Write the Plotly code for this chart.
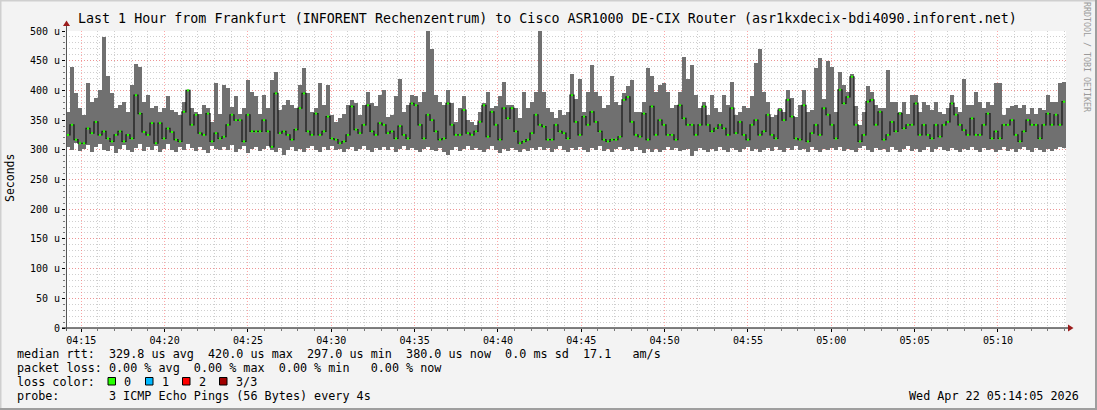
import plotly.graph_objects as go
import pandas as pd

# ---------------- data (microseconds) ----------------
rtt_max = [
    364, 440, 395, 370, 359, 412, 381, 387, 400, 490,
    425, 395, 370, 375, 381, 364, 409, 444, 440, 381,
    392, 370, 373, 364, 370, 390, 367, 364, 359, 381,
    401, 370, 363, 361, 375, 370, 347, 412, 361, 409,
    404, 372, 390, 361, 370, 418, 398, 390, 361, 392,
    370, 417, 431, 367, 375, 384, 375, 370, 409, 437,
    395, 364, 370, 412, 375, 409, 359, 347, 353, 361,
    375, 384, 378, 359, 375, 398, 378, 373, 392, 401,
    356, 359, 390, 420, 364, 375, 392, 390, 381, 398,
    500, 470, 392, 381, 375, 401, 378, 347, 370, 390,
    350, 347, 342, 364, 378, 398, 370, 373, 390, 414,
    375, 375, 370, 353, 398, 370, 381, 398, 500, 398,
    370, 364, 353, 367, 359, 364, 428, 386, 420, 364,
    398, 443, 398, 390, 370, 375, 425, 381, 375, 395,
    407, 417, 364, 364, 381, 437, 425, 398, 409, 412,
    398, 370, 375, 398, 456, 420, 443, 392, 370, 381,
    359, 392, 370, 364, 392, 375, 414, 359, 364, 373,
    370, 390, 446, 470, 398, 381, 356, 359, 370, 364,
    400, 387, 356, 375, 401, 364, 367, 437, 454, 385,
    449, 440, 364, 431, 409, 398, 428, 373, 342, 364,
    407, 398, 375, 370, 370, 434, 381, 381, 364, 381,
    361, 392, 392, 364, 381, 375, 367, 381, 364, 361,
    370, 392, 372, 364, 420, 375, 375, 398, 381, 370,
    381, 375, 412, 412, 359, 370, 373, 375, 370, 375,
    361, 370, 361, 370, 367, 392, 381, 381, 412, 414,
]
rtt_min = [
    305, 300, 312, 298, 302, 308, 296, 304, 310, 300,
    298, 306, 294, 302, 308, 300, 296, 303, 310, 298,
    304, 300, 306, 297, 302, 309, 300, 296, 304, 300,
    310, 303, 298, 305, 300, 295, 306, 302, 299, 304,
    300, 308, 297, 302, 306, 294, 301, 305, 298, 302,
    306, 300, 296, 303, 292, 300, 305, 298, 302, 297,
    303, 307, 300, 296, 304, 299, 306, 300, 302, 296,
    301, 305, 298, 302, 307, 300, 296, 303, 299, 305,
    300, 304, 297, 302, 306, 299, 303, 300, 296, 302,
    305, 300, 298, 303, 297, 292, 300, 305, 298, 302,
    306, 299, 303, 300, 296, 302, 307, 300, 294, 301,
    298, 303, 300, 296, 302, 298, 303, 300, 305, 299,
    303, 297, 301, 306, 300, 296, 303, 299, 304, 300,
    297, 303, 300, 306, 298, 302, 296, 301, 305, 299,
    302, 298, 305, 300, 294, 302, 297, 301, 296, 300,
    304, 299, 303, 298, 300, 302, 290, 298, 303, 300,
    296, 302, 298, 304, 300, 297, 303, 300, 296, 302,
    305, 298, 301, 296, 300, 303, 298, 305, 300, 297,
    303, 300, 306, 299, 302, 297, 304, 300, 296, 302,
    299, 303, 300, 305, 298, 302, 300, 296, 303, 306,
    300, 297, 303, 299, 302, 297, 304, 300, 296, 302,
    306, 298, 302, 296, 300, 304, 297, 301, 305, 300,
    298, 303, 300, 296, 302, 299, 304, 300, 297, 303,
    299, 302, 296, 300, 304, 298, 302, 297, 301, 305,
    300, 297, 303, 299, 296, 302, 298, 301, 305, 303,
]
rtt_median = [
    325, 342, 317, 311, 311, 336, 328, 347, 325, 331,
    319, 314, 325, 331, 314, 325, 319, 392, 361, 330,
    325, 345, 311, 345, 319, 336, 330, 317, 314, 364,
    400, 342, 359, 328, 325, 361, 314, 328, 319, 322,
    342, 359, 350, 350, 314, 359, 331, 331, 331, 350,
    331, 305, 395, 328, 331, 325, 317, 334, 370, 395,
    331, 325, 361, 325, 331, 356, 319, 317, 311, 314,
    325, 373, 334, 328, 342, 375, 331, 325, 345, 342,
    328, 331, 319, 340, 325, 319, 378, 375, 342, 319,
    359, 350, 331, 317, 319, 378, 342, 325, 325, 367,
    328, 325, 331, 347, 375, 322, 364, 342, 317, 370,
    353, 370, 331, 311, 314, 317, 328, 359, 342, 339,
    317, 317, 342, 331, 328, 319, 392, 347, 325, 356,
    342, 364, 347, 331, 317, 314, 317, 317, 322, 384,
    389, 347, 325, 322, 361, 317, 373, 325, 350, 342,
    325, 325, 317, 375, 353, 342, 342, 325, 342, 373,
    342, 331, 336, 342, 336, 325, 370, 328, 347, 325,
    317, 342, 350, 325, 331, 359, 325, 319, 367, 350,
    384, 356, 319, 317, 375, 314, 328, 342, 325, 370,
    359, 342, 319, 401, 378, 389, 423, 342, 314, 325,
    381, 384, 342, 364, 317, 325, 347, 331, 361, 336,
    342, 342, 378, 325, 342, 325, 319, 342, 322, 342,
    347, 378, 359, 342, 333, 325, 353, 325, 325, 342,
    361, 319, 331, 319, 342, 342, 350, 325, 314, 331,
    350, 342, 342, 319, 342, 361, 342, 359, 342, 381,
]
y_tick_values = [0, 50, 100, 150, 200, 250, 300, 350, 400, 450, 500]
y_tick_labels = ["0", "50 u", "100 u", "150 u", "200 u", "250 u",
                 "300 u", "350 u", "400 u", "450 u", "500 u"]
loss_labels = ["0", "1", "2", "3/3"]
loss_colors = ["#26ff00", "#00b8ff", "#ff0000", "#a10000"]

title_text = ("Last 1 Hour from Frankfurt (INFORENT Rechenzentrum) to Cisco ASR1000 "
              "DE-CIX Router (asr1kxdecix-bdi4090.inforent.net)")
stat_lines = [
    "median rtt:  329.8 us avg  420.0 us max  297.0 us min  380.0 us now  0.0 ms sd  17.1   am/s",
    "packet loss: 0.00 % avg  0.00 % max  0.00 % min   0.00 % now",
    "loss color:",
    "probe:       3 ICMP Echo Pings (56 Bytes) every 4s",
]
date_text = "Wed Apr 22 05:14:05 2026"
start = "2026-04-22 04:14:05"
end = "2026-04-22 05:14:05"
step_seconds = 14.4

# ---------------- geometry helpers ----------------
W, H = 1097, 410
L, R, T, B = 66, 1066, 31, 328
def px(x):
    return (x - L) / (R - L)
def py(y):
    return (B - y) / (B - T)

FONT = "DejaVu Sans Mono"

times = pd.date_range(pd.Timestamp(start) + pd.Timedelta(seconds=step_seconds / 2),
                      periods=len(rtt_max), freq=f"{int(step_seconds*1000)}ms")

fig = go.Figure()

# smoke
fig.add_trace(go.Bar(
    x=times, base=rtt_min, y=[a - b for a, b in zip(rtt_max, rtt_min)],
    width=step_seconds * 1000, marker=dict(color="#707070", line=dict(width=0)),
    hoverinfo="skip"))

# median step line
fig.add_trace(go.Scatter(
    x=times, y=rtt_median, mode="lines",
    line=dict(color="#151515", width=1.2, shape="hvh"), hoverinfo="skip"))

# green loss-colored median segments
gx, gy = [], []
half = pd.Timedelta(seconds=4)
for t, m in zip(times, rtt_median):
    gx += [t - half, t + half, None]
    gy += [m, m, None]
fig.add_trace(go.Scatter(x=gx, y=gy, mode="lines",
                         line=dict(color=loss_colors[0], width=2), hoverinfo="skip"))

major_grid = "rgba(255,110,110,0.6)"
minor_grid = "rgba(160,160,160,0.5)"

fig.update_layout(
    width=W, height=H,
    margin=dict(l=L, r=W - R, t=T, b=H - B, autoexpand=False),
    paper_bgcolor="#f3f3f3", plot_bgcolor="#ffffff",
    showlegend=False, bargap=0, barmode="overlay",
    font=dict(family=FONT, size=10, color="#000000"),
    xaxis=dict(
        type="date", range=[start, end], tickformat="%H:%M",
        dtick=300000, tick0="2026-04-22 04:15:00",
        showgrid=True, gridcolor=major_grid, griddash="1px,2px", gridwidth=1,
        ticks="outside", ticklen=3, tickcolor="#000", tickwidth=1,
        minor=dict(dtick=60000, tick0="2026-04-22 04:15:00", showgrid=True,
                   gridcolor=minor_grid, griddash="1px,2px", gridwidth=1,
                   ticks="outside", ticklen=2, tickcolor="#777"),
        showline=False, zeroline=False, fixedrange=True,
        tickfont=dict(family=FONT, size=10, color="#000"),
    ),
    yaxis=dict(
        range=[0, 500], tickvals=y_tick_values, ticktext=y_tick_labels,
        showgrid=True, gridcolor=major_grid, griddash="1px,2px", gridwidth=1,
        ticks="outside", ticklen=3, tickcolor="#000", tickwidth=1,
        minor=dict(dtick=10, showgrid=True, gridcolor=minor_grid,
                   griddash="1px,2px", gridwidth=1,
                   ticks="outside", ticklen=2, tickcolor="#777"),
        showline=False, zeroline=False, fixedrange=True,
        tickfont=dict(family=FONT, size=10, color="#000"),
    ),
)

shapes = []
# frame around the image
shapes.append(dict(type="line", xref="paper", yref="paper", x0=px(0), x1=px(W), y0=py(0.5), y1=py(0.5),
                   line=dict(color="#cfcfcf", width=2)))
shapes.append(dict(type="line", xref="paper", yref="paper", x0=px(0.5), x1=px(0.5), y0=py(0), y1=py(H),
                   line=dict(color="#cfcfcf", width=2)))
shapes.append(dict(type="line", xref="paper", yref="paper", x0=px(0), x1=px(W), y0=py(H - 1), y1=py(H - 1),
                   line=dict(color="#9e9e9e", width=2)))
shapes.append(dict(type="line", xref="paper", yref="paper", x0=px(W - 1), x1=px(W - 1), y0=py(0), y1=py(H),
                   line=dict(color="#9e9e9e", width=2)))
# axes
shapes.append(dict(type="line", xref="paper", yref="paper", x0=px(62), x1=px(1069), y0=py(328), y1=py(328),
                   line=dict(color="#000000", width=1)))
shapes.append(dict(type="line", xref="paper", yref="paper", x0=px(66.5), x1=px(66.5), y0=py(331), y1=py(24),
                   line=dict(color="#555555", width=1)))
# arrows
shapes.append(dict(type="path", xref="paper", yref="paper",
                   path=f"M {px(1068)},{py(324.5)} L {px(1073.5)},{py(328)} L {px(1068)},{py(331.5)} Z",
                   fillcolor="#9b1c1c", line=dict(width=0)))
shapes.append(dict(type="path", xref="paper", yref="paper",
                   path=f"M {px(63)},{py(26)} L {px(66.5)},{py(20.5)} L {px(70)},{py(26)} Z",
                   fillcolor="#9b1c1c", line=dict(width=0)))
# loss color boxes
box_x = [108, 145.5, 182.5, 219.5]
for bx, col in zip(box_x, loss_colors):
    shapes.append(dict(type="rect", xref="paper", yref="paper",
                       x0=px(bx), x1=px(bx + 7.5), y0=py(385), y1=py(377.5),
                       fillcolor=col, line=dict(color="#000000", width=1)))
fig.update_layout(shapes=shapes)

def nb(s):
    return s.replace(" ", "\u00a0")

ann = []
ann.append(dict(x=px(547.5), y=py(19), text=nb(title_text), showarrow=False,
                xref="paper", yref="paper", xanchor="center", yanchor="middle",
                font=dict(family=FONT, size=13.33, color="#000")))
ann.append(dict(x=px(10), y=py(178), text="Seconds", textangle=-90, showarrow=False,
                xref="paper", yref="paper", xanchor="center", yanchor="middle",
                font=dict(family=FONT, size=11.5, color="#000")))
ann.append(dict(x=px(1087), y=py(57), text=nb("RRDTOOL / TOBI OETIKER"), textangle=90, showarrow=False,
                xref="paper", yref="paper", xanchor="center", yanchor="middle",
                font=dict(family=FONT, size=8.3, color="#9a9a9a")))
line_y = [354, 368, 382, 396]
for txt, yy in zip(stat_lines, line_y):
    ann.append(dict(x=px(15), y=py(yy), text=nb(txt), showarrow=False,
                    xref="paper", yref="paper", xanchor="left", yanchor="middle",
                    font=dict(family=FONT, size=11.75, color="#000")))
label_x = [121.5, 159.5, 196.5, 233.5]
for lx, lab in zip(label_x, loss_labels):
    ann.append(dict(x=px(lx), y=py(382), text=lab, showarrow=False,
                    xref="paper", yref="paper", xanchor="left", yanchor="middle",
                    font=dict(family=FONT, size=11.75, color="#000")))
ann.append(dict(x=px(1081), y=py(396), text=nb(date_text), showarrow=False,
                xref="paper", yref="paper", xanchor="right", yanchor="middle",
                font=dict(family=FONT, size=11.75, color="#000")))
fig.update_layout(annotations=ann)

fig.write_html("out.html", config={"displayModeBar": False},
               post_script="document.body.style.margin='0';document.body.style.padding='0';"
                           "document.body.style.overflow='hidden';")
